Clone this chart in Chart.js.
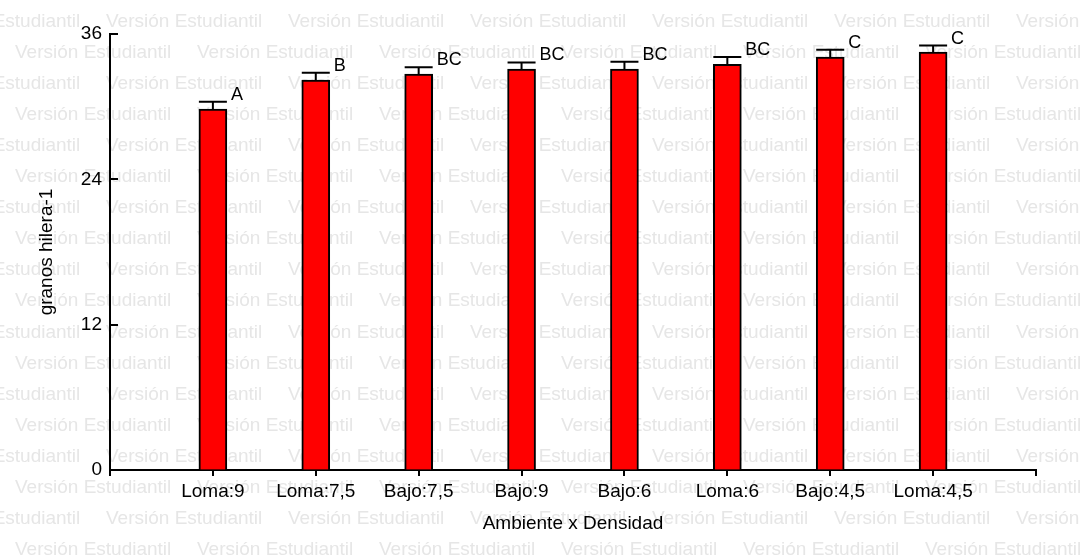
<!DOCTYPE html>
<html>
<head>
<meta charset="utf-8">
<script src="https://cdn.jsdelivr.net/npm/chart.js@4"></script>
<style>
  html, body { margin: 0; padding: 0; background: #fff; }
</style>
</head>
<body>
<canvas id="chart" width="1085" height="555"></canvas>
<script>
// data
const categories = ['Loma:9', 'Loma:7,5', 'Bajo:7,5', 'Bajo:9', 'Bajo:6', 'Loma:6', 'Bajo:4,5', 'Loma:4,5'];
const means = [29.8, 32.2, 32.7, 33.1, 33.1, 33.5, 34.1, 34.5];
const errors = [0.6, 0.6, 0.55, 0.55, 0.6, 0.6, 0.6, 0.55];
const letters = ['A', 'B', 'BC', 'BC', 'BC', 'BC', 'C', 'C'];
const yTicks = [0, 12, 24, 36];

const FONT = '"Liberation Sans", Arial, sans-serif';

// "Versión Estudiantil" background pattern, drawn under everything
const watermark = {
    id: 'watermark',
    beforeDraw(chart) {
        const ctx = chart.ctx;
        ctx.save();
        ctx.fillStyle = '#fff';
        ctx.fillRect(0, 0, chart.width, chart.height);
        ctx.font = '19px ' + FONT;
        ctx.fillStyle = '#e6e6e6';
        ctx.textBaseline = 'alphabetic';
        for (let row = 0; row < 18; row++) {
            const y = 26.5 + row * 31.1;
            const start = row % 2 === 0 ? -76 : 15;
            for (let x = start; x < chart.width; x += 182) {
                ctx.fillText('Versión Estudiantil', x, y);
            }
        }
        ctx.restore();
    }
};

// y ticks point inward, into the plot
const innerTicks = {
    id: 'innerTicks',
    beforeDatasetsDraw(chart) {
        const ctx = chart.ctx;
        const yScale = chart.scales.y;
        const left = chart.chartArea.left;
        ctx.save();
        ctx.strokeStyle = '#000';
        ctx.lineWidth = 2;
        ctx.beginPath();
        yTicks.forEach(v => {
            const y = Math.round(yScale.getPixelForValue(v));
            ctx.moveTo(left, y);
            ctx.lineTo(left + 8, y);
        });
        ctx.stroke();
        ctx.restore();
    }
};

// error bars + significance letters
const errorBars = {
    id: 'errorBars',
    afterDatasetsDraw(chart) {
        const ctx = chart.ctx;
        const yScale = chart.scales.y;
        const meta = chart.getDatasetMeta(0);
        ctx.save();
        ctx.strokeStyle = '#000';
        ctx.lineWidth = 2;
        ctx.fillStyle = '#000';
        ctx.font = '18px ' + FONT;
        ctx.textAlign = 'left';
        ctx.textBaseline = 'alphabetic';
        meta.data.forEach((bar, i) => {
            const top = yScale.getPixelForValue(means[i] + errors[i]);
            const half = bar.width / 2;
            ctx.beginPath();
            ctx.moveTo(bar.x, bar.y);
            ctx.lineTo(bar.x, top);
            ctx.moveTo(bar.x - half, top);
            ctx.lineTo(bar.x + half, top);
            ctx.stroke();
            ctx.fillText(letters[i], bar.x + half + 4, top - 2);
        });
        ctx.restore();
    }
};

new Chart(document.getElementById('chart'), {
    type: 'bar',
    data: {
        datasets: [{
            data: means.map((v, i) => ({ x: i + 1, y: v })),
            backgroundColor: '#ff0000',
            borderColor: '#000',
            borderWidth: 2,
            barThickness: 28
        }]
    },
    options: {
        responsive: false,
        animation: false,
        layout: { padding: { top: 34, right: 49, bottom: 0, left: 0 } },
        plugins: {
            legend: { display: false },
            tooltip: { enabled: false }
        },
        scales: {
            x: {
                type: 'linear',
                min: 0,
                max: 9,
                offset: false,
                afterBuildTicks: scale => {
                    scale.ticks = [0, 1, 2, 3, 4, 5, 6, 7, 8, 9].map(v => ({ value: v }));
                },
                ticks: {
                    autoSkip: false,
                    maxRotation: 0,
                    padding: 4,
                    color: '#000',
                    font: { family: FONT, size: 19 },
                    callback: v => categories[v - 1] || ''
                },
                grid: { offset: false, drawOnChartArea: false, tickLength: 6, color: '#000', lineWidth: 2 },
                border: { color: '#000', width: 2 },
                title: {
                    display: true,
                    text: 'Ambiente x Densidad',
                    color: '#000',
                    font: { family: FONT, size: 19 },
                    padding: { top: 0, bottom: 20 }
                },
                afterFit: scale => { scale.height = 85; }
            },
            y: {
                min: 0,
                max: 36,
                afterBuildTicks: scale => {
                    scale.ticks = yTicks.map(v => ({ value: v }));
                },
                ticks: {
                    padding: 8,
                    color: '#000',
                    font: { family: FONT, size: 19 }
                },
                grid: { drawOnChartArea: false, drawTicks: false },
                border: { color: '#000', width: 2 },
                title: {
                    display: true,
                    text: 'granos hilera-1',
                    color: '#000',
                    font: { family: FONT, size: 19 },
                    padding: { top: 35, bottom: 0 }
                },
                afterFit: scale => { scale.width = 110; }
            }
        }
    },
    plugins: [watermark, innerTicks, errorBars]
});
</script>
</body>
</html>
